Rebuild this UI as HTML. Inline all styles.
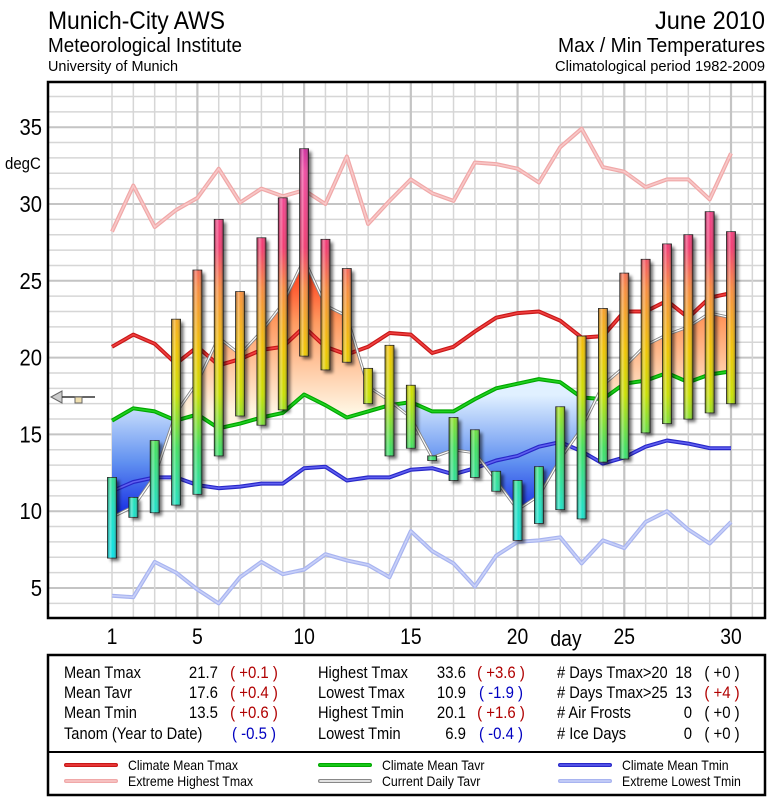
<!DOCTYPE html>
<html><head><meta charset="utf-8"><style>
html,body{margin:0;padding:0;background:#fff;}
svg{display:block;font-family:"Liberation Sans Narrow","Liberation Sans",sans-serif;}
</style></head><body>
<svg id="chart" width="775" height="800" viewBox="0 0 775 800" xmlns="http://www.w3.org/2000/svg">
<defs>
  <linearGradient id="barGrad" gradientUnits="userSpaceOnUse" x1="0" y1="127" x2="0" y2="573">
    <stop offset="0" stop-color="#b0109a"/>
    <stop offset="0.1" stop-color="#f04aa0"/>
    <stop offset="0.27" stop-color="#f23a70"/>
    <stop offset="0.36" stop-color="#f88a40"/>
    <stop offset="0.5" stop-color="#f0c400"/>
    <stop offset="0.6" stop-color="#c8e000"/>
    <stop offset="0.72" stop-color="#40e060"/>
    <stop offset="0.85" stop-color="#20e0c0"/>
    <stop offset="1" stop-color="#00e0f0"/>
  </linearGradient>
  <linearGradient id="cyl" x1="0" y1="0" x2="1" y2="0">
    <stop offset="0" stop-color="#000" stop-opacity="0.35"/>
    <stop offset="0.3" stop-color="#fff" stop-opacity="0.35"/>
    <stop offset="0.6" stop-color="#fff" stop-opacity="0"/>
    <stop offset="1" stop-color="#000" stop-opacity="0.45"/>
  </linearGradient>
  <linearGradient id="warmGrad" gradientUnits="userSpaceOnUse" x1="0" y1="250" x2="0" y2="410">
    <stop offset="0" stop-color="#ff1800"/>
    <stop offset="0.45" stop-color="#ff9a60"/>
    <stop offset="1" stop-color="#fff4e0"/>
  </linearGradient>
  <linearGradient id="coldGrad" gradientUnits="userSpaceOnUse" x1="0" y1="395" x2="0" y2="530">
    <stop offset="0" stop-color="#e0f0ff"/>
    <stop offset="0.5" stop-color="#6090f0"/>
    <stop offset="1" stop-color="#0010e0"/>
  </linearGradient>
  <filter id="blur" x="-50%" y="-10%" width="200%" height="120%"><feGaussianBlur stdDeviation="1.5"/></filter>
  <clipPath id="plotClip"><rect x="48" y="82" width="717" height="536"/></clipPath>
</defs>

<g>
  <text x="48" y="29" font-size="25" textLength="177" lengthAdjust="spacingAndGlyphs">Munich-City AWS</text>
  <text x="48" y="52" font-size="20" textLength="194" lengthAdjust="spacingAndGlyphs">Meteorological Institute</text>
  <text x="48" y="71" font-size="15" textLength="130" lengthAdjust="spacingAndGlyphs">University of Munich</text>
  <text x="765" y="29" font-size="25" text-anchor="end" textLength="110" lengthAdjust="spacingAndGlyphs">June 2010</text>
  <text x="765" y="52" font-size="20" text-anchor="end" textLength="207" lengthAdjust="spacingAndGlyphs">Max / Min Temperatures</text>
  <text x="765" y="71" font-size="15" text-anchor="end" textLength="210" lengthAdjust="spacingAndGlyphs">Climatological period 1982-2009</text>
</g>

<g id="grid"></g>
<g id="plot" clip-path="url(#plotClip)"></g>
<rect x="48" y="82" width="717" height="536" fill="none" stroke="#000" stroke-width="2.5"/>
<g id="axes"></g>

<g>
  <polygon points="51,397 62,391 62,403" fill="#ccc" stroke="#666" stroke-width="1"/>
  <line x1="62" y1="397" x2="95" y2="397" stroke="#333" stroke-width="1.5"/>
  <rect x="75" y="397" width="7" height="6" fill="#f0e0b0" stroke="#666" stroke-width="1"/>
</g>

<g>
  <rect x="48" y="655" width="717" height="140" fill="#fff" stroke="#000" stroke-width="2.5"/>
  <line x1="48" y1="752" x2="765" y2="752" stroke="#000" stroke-width="2"/>
  <g font-size="17" id="statsText"></g>
  <g font-size="14" id="legendG"></g>
</g>

<script>
const days = [1,2,3,4,5,6,7,8,9,10,11,12,13,14,15,16,17,18,19,20,21,22,23,24,25,26,27,28,29,30];
const tmax = [12.2,10.9,14.6,22.5,25.7,29.0,24.3,27.8,30.4,33.6,27.7,25.8,19.3,20.8,18.2,13.6,16.1,15.3,12.6,12.0,12.9,16.8,21.4,23.2,25.5,26.4,27.4,28.0,29.5,28.2];
const tmin = [6.95,9.6,9.9,10.4,11.1,13.6,16.2,15.6,16.6,20.1,19.2,19.7,17.0,13.6,14.1,13.3,12.0,12.2,11.3,8.1,9.2,10.1,9.5,13.2,13.4,15.1,15.7,16.0,16.4,17.0];
const tavr = [9.6,10.3,12.3,16.4,18.4,21.3,20.2,21.7,23.5,26.4,23.4,22.7,18.1,17.2,16.1,13.5,14.0,13.8,12.0,10.1,11.0,13.4,15.4,18.2,19.4,20.8,21.5,22.0,22.9,22.6];
const climMax = [20.7,21.5,20.9,19.6,20.7,19.5,19.9,20.5,20.7,22.0,20.7,20.2,20.7,21.6,21.5,20.3,20.7,21.7,22.6,22.9,23.0,22.4,21.3,21.4,23.0,23.0,23.7,22.6,23.9,24.2];
const climAvr = [15.9,16.7,16.5,15.9,16.3,15.4,15.7,16.1,16.4,17.6,16.9,16.1,16.5,16.9,17.1,16.5,16.5,17.3,18.0,18.3,18.6,18.4,17.4,17.3,18.3,18.5,19.0,18.4,18.9,19.1];
const climMin = [11.3,11.9,12.2,12.2,11.7,11.5,11.6,11.8,11.8,12.8,12.9,12.0,12.2,12.2,12.7,12.8,12.4,12.8,13.3,13.6,14.2,14.5,13.9,13.1,13.5,14.2,14.6,14.4,14.1,14.1];
const extMax = [28.2,31.2,28.5,29.6,30.4,32.3,30.1,31.0,30.5,30.9,30.0,33.1,28.7,30.2,31.6,30.7,30.2,32.7,32.6,32.3,31.4,33.7,34.9,32.4,32.1,31.1,31.6,31.6,30.3,33.3];
const extMin = [4.5,4.4,6.7,6.0,4.9,4.0,5.7,6.7,5.9,6.2,7.2,6.8,6.5,5.7,8.7,7.4,6.6,5.1,7.1,8.0,8.1,8.3,6.6,8.1,7.6,9.3,10.0,8.8,7.9,9.3];
const yTicks = [5,10,15,20,25,30,35];
const xTicks = [1,5,10,15,20,25,30];

const NS = "http://www.w3.org/2000/svg";
const X = d => 112 + (d - 1) * 21.345;
const Y = t => 204 - (t - 30) * 15.36;
function mk(tag, attrs, parent){ const e=document.createElementNS(NS,tag); for(const k in attrs) e.setAttribute(k,attrs[k]); parent.appendChild(e); return e; }
function narrow(t, f){ const w = t.getComputedTextLength(); t.setAttribute('textLength', (w*f).toFixed(1)); t.setAttribute('lengthAdjust','spacingAndGlyphs'); }

// grid
const grid = document.getElementById('grid');
mk('rect',{x:48,y:82,width:717,height:536,fill:'#fff'},grid);
for(let t=4;t<=37;t++){
  const l = mk('line',{x1:48,x2:765,y1:Y(t),y2:Y(t),stroke:t%5===0?'#c4c4c4':'#d6d6d6','stroke-width':t%5===0?2:1.5},grid);
  
  
}
for(let d=1;d<=31;d++){
  const l = mk('line',{x1:X(d),x2:X(d),y1:82,y2:618,stroke:d%5===0?'#c4c4c4':'#d6d6d6','stroke-width':d%5===0?2.2:1.5},grid);
  
  
}

const plot = document.getElementById('plot');
const pts = arr => arr.map((v,i)=>X(days[i]).toFixed(1)+','+Y(v).toFixed(1)).join(' ');
const ptsRev = arr => arr.map((v,i)=>X(days[i]).toFixed(1)+','+Y(v).toFixed(1)).reverse().join(' ');

const cp1 = mk('clipPath',{id:'aboveClim'},plot);
mk('polygon',{points:X(1)+',82 '+pts(climAvr)+' '+X(30)+',82'},cp1);
const cp2 = mk('clipPath',{id:'belowClim'},plot);
mk('polygon',{points:X(1)+',618 '+pts(climAvr)+' '+X(30)+',618'},cp2);
const areaPts = pts(tavr)+' '+ptsRev(climAvr);
const warm = mk('polygon',{points:areaPts,fill:'url(#warmGrad)','clip-path':'url(#aboveClim)'},plot);


const cold = mk('polygon',{points:areaPts,fill:'url(#coldGrad)','clip-path':'url(#belowClim)'},plot);



function line(arr, outer, inner, w, name){
  const g = mk('g',{},plot);
  
  
  mk('polyline',{points:pts(arr),fill:'none',stroke:outer,'stroke-width':w,'stroke-linejoin':'round'},g);
  if(inner) mk('polyline',{points:pts(arr),fill:'none',stroke:inner,'stroke-width':w/2.5,'stroke-linejoin':'round'},g);
}
line(extMax,'#f0a8a8','#f8c8c8',4,'extreme-highest-tmax-line');
line(extMin,'#a8b4f0','#c8d0f8',4,'extreme-lowest-tmin-line');
line(climMin,'#2828c8','#6060f0',4,'climate-mean-tmin-line');
line(climAvr,'#00a800','#20d020',4,'climate-mean-tavr-line');
line(climMax,'#c81818','#f04040',4,'climate-mean-tmax-line');
line(tavr,'#888','#fff',3,'current-daily-tavr-line');

const bw = 9;
days.forEach((d,i)=>{
  const x = X(d)-bw/2, y1=Y(tmax[i]), y2=Y(tmin[i]);
  const g = mk('g',{},plot);
  
  
  mk('rect',{x:x+3,y:y1+3,width:bw,height:Math.max(2,y2-y1),fill:'#000',opacity:0.55,filter:'url(#blur)'},g);
  mk('rect',{x:x,y:y1,width:bw,height:Math.max(2,y2-y1),fill:'url(#barGrad)',stroke:'#222','stroke-width':0.8},g);
  mk('rect',{x:x,y:y1,width:bw,height:Math.max(2,y2-y1),fill:'url(#cyl)'},g);
});

const axes = document.getElementById('axes');
yTicks.forEach(t=>{
  const e = mk('text',{x:42,y:Y(t)+8,'font-size':23,'text-anchor':'end'},axes);
  e.textContent = t;
  
  
  narrow(e,0.88);
});
const yl = mk('text',{x:5,y:169,'font-size':17},axes);
yl.textContent='degC';


narrow(yl,0.88);
xTicks.forEach(d=>{
  const e = mk('text',{x:X(d),y:644,'font-size':22,'text-anchor':'middle'},axes);
  e.textContent = d;
  
  
  narrow(e,0.88);
});
const xl = mk('text',{x:566,y:646,'font-size':22,'text-anchor':'middle'},axes);
xl.textContent='day';


narrow(xl,0.88);

const statsG = document.getElementById('statsText');
const rowsY = [678,698,718,739];
const col1 = [['Mean Tmax','21.7','( +0.1 )','#b00000'],['Mean Tavr','17.6','( +0.4 )','#b00000'],['Mean Tmin','13.5','( +0.6 )','#b00000'],['Tanom (Year to Date)','','( -0.5 )','#0000c0']];
const col2 = [['Highest Tmax','33.6','( +3.6 )','#b00000'],['Lowest Tmax','10.9','( -1.9 )','#0000c0'],['Highest Tmin','20.1','( +1.6 )','#b00000'],['Lowest Tmin','6.9','( -0.4 )','#0000c0']];
const col3 = [['# Days Tmax>20','18','( +0 )','#000'],['# Days Tmax>25','13','( +4 )','#b00000'],['# Air Frosts','0','( +0 )','#000'],['# Ice Days','0','( +0 )','#000']];
function statCol(rows, xl, xv, xp){
  rows.forEach((r,i)=>{
    const a = mk('text',{x:xl,y:rowsY[i]},statsG); a.textContent=r[0];
    
    
    narrow(a,0.86);
    if(r[1]){ const b = mk('text',{x:xv,y:rowsY[i],'text-anchor':'end'},statsG); b.textContent=r[1];
      
      
      narrow(b,0.88); }
    const c = mk('text',{x:xp,y:rowsY[i],fill:r[3],'text-anchor':'middle'},statsG); c.textContent=r[2];
    
    
    narrow(c,0.88);
  });
}
statCol(col1,64,218,254);
statCol(col2,318,466,501);
statCol(col3,557,692,722);

const lg = document.getElementById('legendG');
const legend = [
  [66,765,'#c81818','#f04040','Climate Mean Tmax'],
  [66,781,'#f0a8a8','#f8c8c8','Extreme Highest Tmax'],
  [320,765,'#00a800','#20d020','Climate Mean Tavr'],
  [320,781,'#888','#fff','Current Daily Tavr'],
  [560,765,'#2828c8','#6060f0','Climate Mean Tmin'],
  [560,781,'#a8b4f0','#c8d0f8','Extreme Lowest Tmin']
];
legend.forEach(L=>{
  const g = mk('g',{},lg);
  
  
  mk('line',{x1:L[0],x2:L[0]+50,y1:L[1],y2:L[1],stroke:L[2],'stroke-width':4,'stroke-linecap':'round'},g);
  mk('line',{x1:L[0],x2:L[0]+50,y1:L[1],y2:L[1],stroke:L[3],'stroke-width':1.5,'stroke-linecap':'round'},g);
  const t = mk('text',{x:L[0]+62,y:L[1]+5},g); t.textContent=L[4];
  narrow(t,0.88);
});
</script>
</svg>
</body></html>
